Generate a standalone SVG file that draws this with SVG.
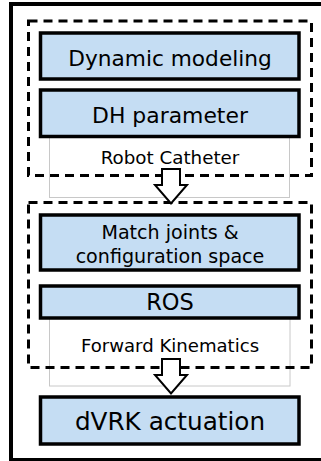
<svg xmlns="http://www.w3.org/2000/svg" width="321" height="461" viewBox="0 0 321 461">
<style>
.outer{fill:#fff;stroke:#000;stroke-width:4}
.gray{fill:#fff;stroke:#c8c8c8;stroke-width:1}
.dash{fill:none;stroke:#000;stroke-width:3;stroke-dasharray:9 6}
.blue{fill:#c5ddf3;stroke:#000;stroke-width:3.5}
.arrow{fill:#fff;stroke:#000;stroke-width:2;stroke-linejoin:miter}
text{font-family:"DejaVu Sans","Verdana",sans-serif;text-anchor:middle;fill:#000}
</style>
<rect class="outer" x="11" y="4" width="314" height="456"/>
<g id="group-robot-catheter">
<rect class="gray" x="49.5" y="120" width="240" height="77.5"/>
<text x="170" y="164.3" font-size="18.3">Robot Catheter</text>
<rect class="dash" x="28.5" y="21" width="283" height="154.5"/>
</g>
<g id="group-forward-kinematics">
<rect class="gray" x="49.5" y="300" width="240.5" height="86"/>
<text x="170" y="351.7" font-size="18.1">Forward Kinematics</text>
<rect class="dash" x="28.5" y="202.5" width="283" height="165"/>
</g>
<g id="node-dynamic">
<rect class="blue" x="40.5" y="33" width="258.5" height="46"/>
<text x="170" y="65.7" font-size="21.7">Dynamic modeling</text>
</g>
<g id="node-dh">
<rect class="blue" x="40.5" y="90" width="258.5" height="46.5"/>
<text x="170" y="123.3" font-size="21.9">DH parameter</text>
</g>
<g id="node-match">
<rect class="blue" x="40.5" y="215" width="258.5" height="55"/>
<text x="170" y="239.3" font-size="19.1">Match joints &amp;</text>
<text x="170" y="263.3" font-size="19.1">configuration space</text>
</g>
<g id="node-ros">
<rect class="blue" x="40.5" y="286" width="258.5" height="32"/>
<text x="170" y="310" font-size="22.5">ROS</text>
</g>
<g id="node-dvrk">
<rect class="blue" x="40.5" y="397" width="258.5" height="47"/>
<text x="170" y="430" font-size="24.7">dVRK actuation</text>
</g>
<g id="connectors">
<polygon class="arrow" points="162,169 180,169 180,185 187,185 171,203.5 155,185 162,185"/>
<polygon class="arrow" points="162,359 180,359 180,375 187,375 171,393.5 155,375 162,375"/>
</g>
</svg>
